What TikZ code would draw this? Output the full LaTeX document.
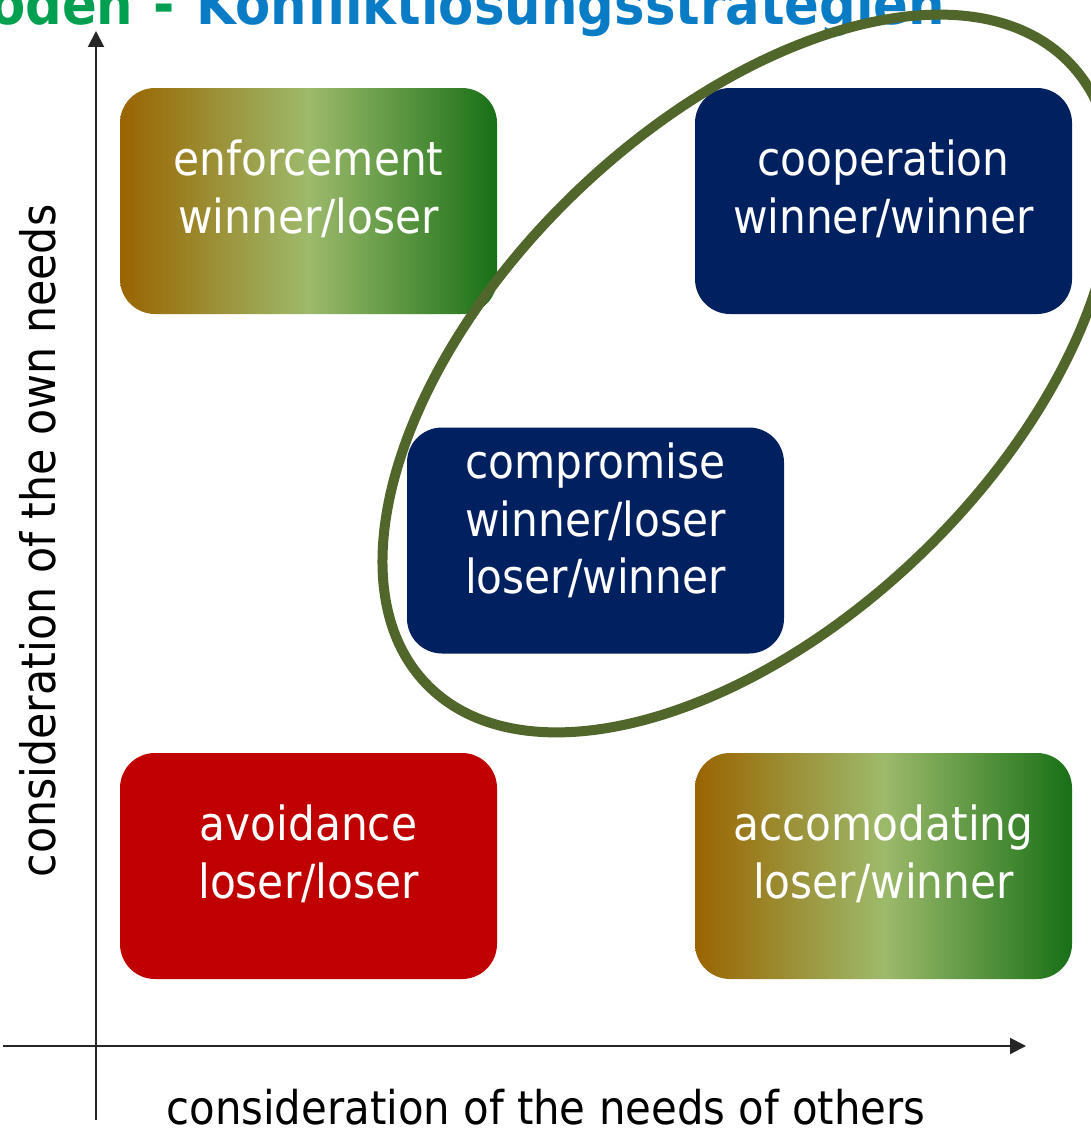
\documentclass[tikz,border=0pt]{standalone}
\usepackage{fontspec}
\setmainfont{DejaVu Sans Condensed}
\usetikzlibrary{arrows.meta}
\definecolor{navy}{HTML}{002060}
\definecolor{deepred}{HTML}{C00000}
\definecolor{ovalgreen}{HTML}{50662A}
\definecolor{gradbrown}{HTML}{9A6400}
\definecolor{gradlight}{HTML}{9DBA6B}
\definecolor{gradgreen}{HTML}{187016}
\definecolor{titlegreen}{HTML}{00A050}
\definecolor{titleblue}{HTML}{0A7CC6}
\begin{document}
\begin{tikzpicture}[x=1pt,y=-1pt,
  quadbox/.style={minimum width=377pt, minimum height=226pt, rounded corners=35pt, inner sep=0pt},
  solidbox/.style={quadbox, fill=#1},
  gradbox/.style={quadbox, left color=gradbrown, right color=gradgreen, middle color=gradlight},
  boxtext/.style={align=center, text=white, inner sep=0pt, font=\fontsize{47}{57.5}\selectfont},
  axis/.style={line width=2pt, draw=black!85, -{Triangle[length=16pt,width=16pt]}},
  axislabel/.style={font=\fontsize{46.5}{54}\selectfont, inner sep=0pt}]
\useasboundingbox (0,0) rectangle (1091,1132);

% heading, partly above the page edge
\node[anchor=base west, inner sep=0pt, font=\fontsize{57}{62}\selectfont\bfseries]
  (heading) at (-10,25) {\textcolor{titlegreen}{oden\hspace{20pt}-}\hspace{22pt}\textcolor{titleblue}{Konfliktlösungsstrategien}};

% axes
\coordinate (xstart) at (3,1046);
\coordinate (xend) at (1026,1046);
\coordinate (ystart) at (96,1120);
\coordinate (yend) at (96,31);
\draw[axis] (xstart) -- (xend);
\draw[axis] (ystart) -- (yend);

\node[axislabel, anchor=base] (xlabel) at (546,1124) {consideration of the needs of others};
\node[axislabel, anchor=base, rotate=90, font=\fontsize{47.5}{54}\selectfont] (ylabel) at (55,541) {consideration of the own needs};

% strategy boxes
\node[gradbox] (enforce) at (308.5,201) {};
\node[solidbox=navy] (coop) at (883.5,201) {};
\node[solidbox=navy] (comp) at (595.5,540.5) {};
\node[solidbox=deepred] (avoid) at (308.5,866) {};
\node[gradbox] (accom) at (883.5,866) {};

\node[boxtext] (enforcetxt) at ([yshift=12pt]enforce.center) {enforcement\\winner/loser};
\node[boxtext] (cooptxt) at ([yshift=12pt]coop.center) {cooperation\\winner/winner};
\node[boxtext] (comptxt) at ([yshift=20pt]comp.center) {compromise\\winner/loser\\loser/winner};
\node[boxtext] (avoidtxt) at ([yshift=12pt]avoid.center) {avoidance\\loser/loser};
\node[boxtext] (accomtxt) at ([yshift=12pt]accom.center) {accomodating\\loser/winner};

% oval grouping the win-win strategies
\draw[ovalgreen, line width=10pt, rotate around={44:(748,373.5)}]
  (748,373.5) ellipse [x radius=447, y radius=250];
\end{tikzpicture}
\end{document}
